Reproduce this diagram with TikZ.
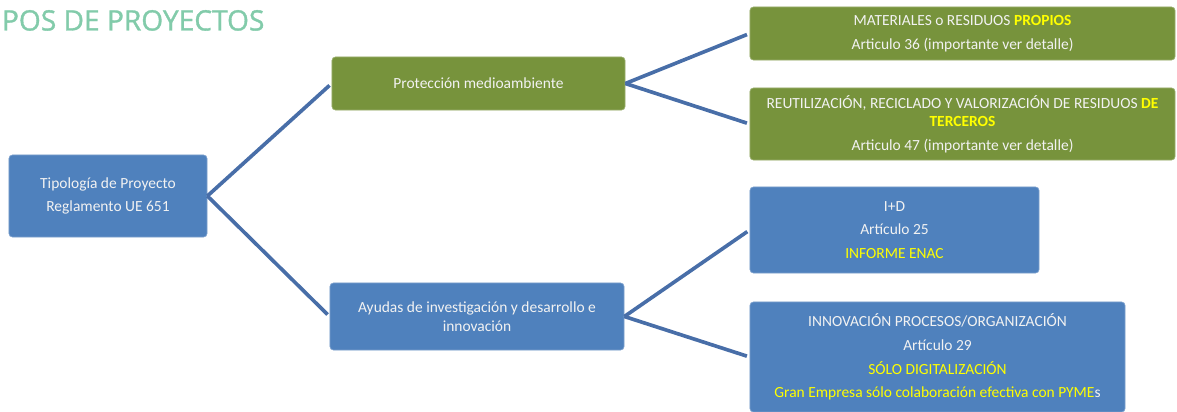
\documentclass[tikz,border=0pt]{standalone}
\usepackage{fontspec}
\setmainfont{Carlito}
\newfontfamily\titlefont[FakeBold=1.2]{Open Sans}

\definecolor{azul}{RGB}{79,129,189}
\definecolor{verde}{RGB}{119,147,60}
\definecolor{linea}{RGB}{72,110,168}
\definecolor{menta}{RGB}{130,203,170}
\definecolor{amarillo}{RGB}{255,255,0}
\definecolor{textoc}{RGB}{242,242,242}

\tikzset{
  caja/.style={rounded corners=2.5pt, draw=#1!75!white, fill=#1, line width=0.5pt,
    text=textoc, align=center, inner sep=0pt, font=\fontsize{11}{13.2}\selectfont},
  rama/.style={draw=linea, line width=2.6pt, shorten >=2pt},
}

\begin{document}
\begin{tikzpicture}[x=0.025cm, y=-0.025cm]

    \useasboundingbox (0,0) rectangle (1177,412);

    % Titulo (cortado a la izquierda)
    \node[anchor=base west, text=menta, font=\titlefont\fontsize{20}{24}\selectfont] (titulo) at (-3,30.5) {POS DE PROYECTOS};

    % Caja principal
    \node[caja=azul, minimum width=4.95cm, minimum height=2.05cm] (tipo) at (108,196)
        {Tipología de Proyecto\\[3.6pt]Reglamento UE 651};

    % Segundo nivel
    \node[caja=verde, minimum width=7.325cm, minimum height=1.325cm] (prot) at (478.5,83.5)
        {Protección medioambiente};
    \node[caja=azul, minimum width=7.35cm, minimum height=1.675cm] (ayud) at (477,316.5)
        {Ayudas de investigación y desarrollo e\\innovación};

    % Tercer nivel: proteccion
    \node[caja=verde, minimum width=10.625cm, minimum height=1.325cm] (mat) at (962.5,33.5)
        {MATERIALES o RESIDUOS \textbf{\color{amarillo}PROPIOS}\\[3.6pt]Articulo 36 (importante ver detalle)};
    \node[caja=verde, minimum width=10.625cm, minimum height=1.8cm] (reut) at (962.5,124)
        {REUTILIZACIÓN, RECICLADO Y VALORIZACIÓN DE RESIDUOS \textbf{\color{amarillo}DE}\\
         \textbf{\color{amarillo}TERCEROS}\\[3.6pt]Articulo 47 (importante ver detalle)};

    % Tercer nivel: I+D+i
    \node[caja=azul, minimum width=7.225cm, minimum height=2.15cm] (id) at (894.5,230)
        {I+D\\[3.6pt]Artículo 25\\[3.6pt]{\color{amarillo}INFORME ENAC}};
    \node[caja=azul, minimum width=9.375cm, minimum height=2.75cm] (inno) at (937.5,357)
        {INNOVACIÓN PROCESOS/ORGANIZACIÓN\\[3.6pt]Artículo 29\\[3.6pt]
         {\color{amarillo}SÓLO DIGITALIZACIÓN}\\[3.6pt]
         {\color{amarillo}Gran Empresa sólo colaboración efectiva con PYME}s};

    % Conectores
    \draw[rama] (tipo.east) -- (prot.west);
    \draw[rama] (tipo.east) -- (ayud.west);
    \draw[rama] (prot.east) -- (mat.west);
    \draw[rama] (prot.east) -- (reut.west);
    \draw[rama] (ayud.east) -- (id.west);
    \draw[rama] (ayud.east) -- (inno.west);

\end{tikzpicture}
\end{document}
